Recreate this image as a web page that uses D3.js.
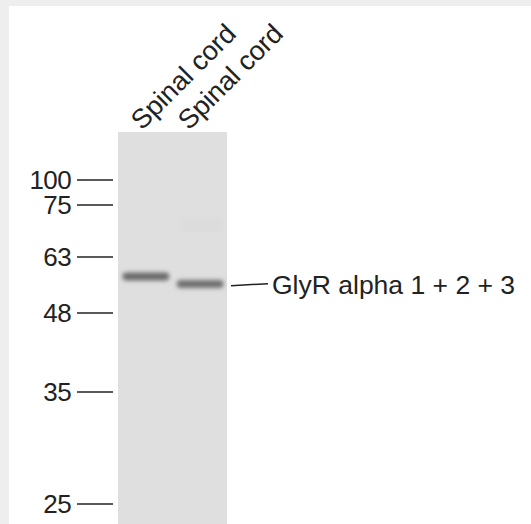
<!DOCTYPE html>
<html>
<head>
<meta charset="utf-8">
<script src="https://cdn.jsdelivr.net/npm/d3@7"></script>
<style>
  body{margin:0;background:#eeeeee;}
  svg{display:block;}
</style>
</head>
<body>
<script>
// 数据
const lanes = ["Spinal cord", "Spinal cord"];
const markers = [100, 75, 63, 48, 35, 25];
const bandKDa = [57.8, 55.8];
const bandDark = [0.66, 0.64];
const target = "GlyR alpha 1 + 2 + 3";
const targetKDa = 55.6;

// 画布
const width = 531, height = 524;
const svg = d3.select("body").append("svg")
  .attr("width", width).attr("height", height);

svg.append("rect").attr("x", 9).attr("y", 6)
  .attr("width", width - 9).attr("height", height - 6)
  .attr("fill", "#ffffff");

// 分子量刻度（凝胶不是对数均匀的，用分段线性）
const y = d3.scaleLinear()
  .domain(markers)
  .range([180, 205, 257, 313, 392, 504]);

const x = d3.scaleBand().domain(d3.range(lanes.length))
  .range([116, 230]).padding(0.1);
const xLabel = d3.scalePoint().domain(d3.range(lanes.length))
  .range([142, 189]);

// 模糊滤镜
const defs = svg.append("defs");
defs.append("filter").attr("id", "blur")
  .attr("x", "-20%").attr("y", "-100%").attr("width", "140%").attr("height", "300%")
  .append("feGaussianBlur").attr("stdDeviation", 1.9);

// 膜
svg.append("rect")
  .attr("x", 118).attr("y", 132)
  .attr("width", 109).attr("height", height - 132)
  .attr("fill", "#dfdfdf");
// 第二泳道一点淡淡的污迹
svg.append("rect")
  .attr("x", 182).attr("y", 218)
  .attr("width", 40).attr("height", 14)
  .attr("fill", "#dcdcdc")
  .attr("filter", "url(#blur)");

// 条带
svg.selectAll("rect.band").data(bandKDa).enter().append("rect")
  .attr("class", "band")
  .attr("x", (d, i) => x(i) + 1)
  .attr("y", d => y(d) - 4)
  .attr("width", x.bandwidth() - 2)
  .attr("height", 8)
  .attr("rx", 4)
  .attr("fill", (d, i) => d3.interpolateGreys(bandDark[i]))
  .attr("filter", "url(#blur)");

// 刻度
const mk = svg.selectAll("g.mk").data(markers).enter().append("g")
  .attr("class", "mk")
  .attr("transform", d => `translate(0,${y(d)})`);
mk.append("line")
  .attr("x1", 77).attr("x2", 113)
  .attr("stroke", "#222").attr("stroke-width", 1.5);
mk.append("text")
  .attr("x", 71).attr("y", 0).attr("dy", "0.36em")
  .attr("text-anchor", "end")
  .attr("font-family", "Liberation Sans, Arial, sans-serif")
  .attr("font-size", 26)
  .attr("letter-spacing", -0.6)
  .attr("fill", "#222")
  .text(d => d);

// 泳道标签
svg.selectAll("text.lane").data(lanes).enter().append("text")
  .attr("class", "lane")
  .attr("transform", (d, i) => `translate(${xLabel(i)},131) rotate(-45)`)
  .attr("font-family", "Liberation Sans, Arial, sans-serif")
  .attr("font-size", 27)
  .attr("fill", "#222")
  .text(d => d);

// 目标蛋白
svg.append("line")
  .attr("x1", 231).attr("y1", y(targetKDa) + 1)
  .attr("x2", 268).attr("y2", y(targetKDa) - 1)
  .attr("stroke", "#222").attr("stroke-width", 1.5);
svg.append("text")
  .attr("x", 272).attr("y", y(targetKDa)).attr("dy", "0.36em")
  .attr("font-family", "Liberation Sans, Arial, sans-serif")
  .attr("font-size", 26.5)
  .attr("fill", "#222")
  .text(target);
</script>
</body>
</html>
